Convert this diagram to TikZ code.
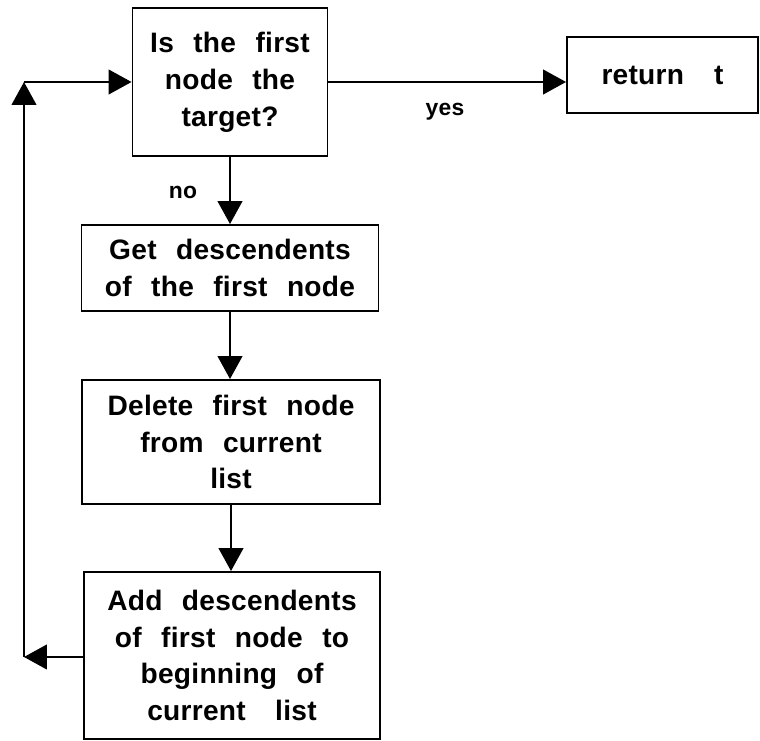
\documentclass[tikz,border=0pt]{standalone}
\usepackage{fontspec}
\setmainfont{Liberation Sans}[LetterSpace=1,WordSpace=2.4]
\usetikzlibrary{arrows.meta}

\begin{document}
\begin{tikzpicture}[
  box/.style={draw,line width=1.1pt,inner sep=0pt,align=center,
    font=\bfseries\fontsize{16}{21}\selectfont},
  lbl/.style={font=\bfseries\fontsize{13}{15}\selectfont},
  arr/.style={line width=1.1pt,-{Triangle[length=13pt,width=14pt]}}
]
  \useasboundingbox (0,0) rectangle (15.2,-14.82);

  \node[box,minimum width=3.9cm,minimum height=2.96cm] (test) at (4.6,-1.64) {Is the first\\node the\\target?};
  \node[box,minimum width=3.82cm,minimum height=1.52cm] (ret) at (13.25,-1.5) {return\hspace{0.6cm}t};
  \node[box,minimum width=5.94cm,minimum height=1.72cm] (get) at (4.6,-5.36) {Get descendents\\of the first node};
  \node[box,minimum width=5.96cm,minimum height=2.48cm] (del) at (4.62,-8.84) {Delete first node\\from current\\list};
  \node[box,minimum width=5.92cm,minimum height=3.34cm] (add) at (4.64,-13.11) {Add descendents\\of first node to\\beginning of\\current\hspace{0.2cm} list};

  \node[lbl] (no) at (3.66,-3.84) {no};
  \node[lbl] (yes) at (8.9,-2.24) {yes};

  \coordinate (corner) at (0.48,-1.64);
  \coordinate (back) at (0.48,-13.14);

  \draw[arr] (test.east) -- (test.east -| ret.west);
  \draw[arr] (test.south) -- (test.south |- get.north);
  \draw[arr] (get.south) -- (get.south |- del.north);
  \draw[arr] (del.south) -- (del.south |- add.north);
  \draw[arr] (add.west |- back) -- (back);
  \draw[arr] (back) -- (corner);
  \draw[arr] (corner) -- (test.west);
\end{tikzpicture}
\end{document}
